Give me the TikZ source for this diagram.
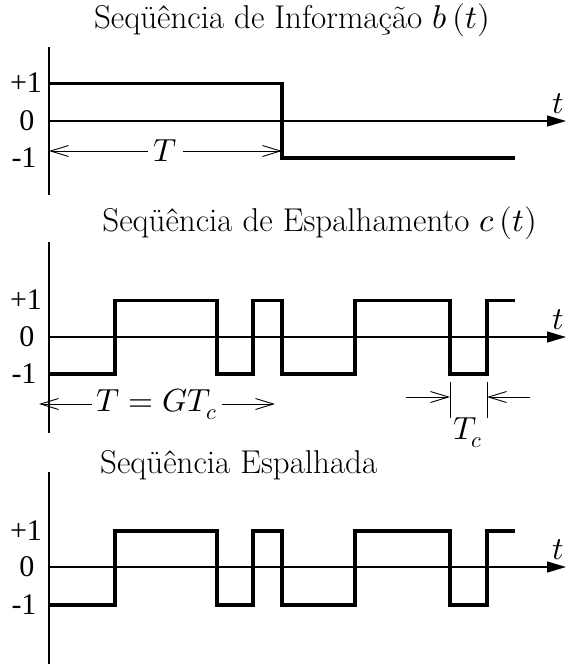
\documentclass[tikz,border=0pt]{standalone}
\usepackage{fontspec}
\usepackage{unicode-math}
\newfontfamily\timesfont{Liberation Serif}
\usetikzlibrary{arrows.meta}

\begin{document}
\begin{tikzpicture}[x=1pt,y=-1pt,
  axis/.style={line width=1.2pt},
  taxis/.style={axis,-{Triangle[length=19pt,width=11pt]}},
  signal/.style={line width=3.2pt,line join=miter},
  barb/.style={line width=0.9pt},
  dim/.style={barb,{Straight Barb[length=18pt,width=11pt]}-{Straight Barb[length=18pt,width=11pt]}},
  halfdim/.style={barb,-{Straight Barb[length=18pt,width=11pt]}},
  title/.style={font=\fontsize{33}{37}\selectfont,inner sep=0pt},
  level/.style={font=\timesfont\fontsize{30}{34}\selectfont,inner sep=0pt},
  tlabel/.style={font=\fontsize{32}{36}\selectfont,inner sep=0pt}]
\path[use as bounding box] (0,0) rectangle (566,664);
% information sequence b(t)
\node[title,anchor=base] (tinfo) at (292,28) {Seqüência de Informação $b\,(t)$};
\draw[axis] (49,47) -- (49,195);
\draw[taxis] (49,121) -- (566,121);
\node[tlabel] (ta) at (558,104) {$t$};
\node[level] (pa) at (26,83) {+1};
\node[level] (za) at (27,121) {0};
\node[level] (ma) at (24,158) {-1};
\draw[signal] (49,83.5) -- (282,83.5) -- (282,158) -- (515,158);
\coordinate (Ta0) at (49,151);
\coordinate (Ta1) at (282,151);
\draw[dim] (Ta0) -- node[tlabel,fill=white,inner xsep=6pt] (lT) {$T$} (Ta1);
% spreading sequence c(t)
\node[title,anchor=base] (tspread) at (320,231) {Seqüência de Espalhamento $c\,(t)$};
\draw[axis] (49,242) -- (49,433);
\draw[taxis] (49,337) -- (566,337);
\node[tlabel] (tb) at (558,320) {$t$};
\node[level] (pb) at (26,300) {+1};
\node[level] (zb) at (27,337) {0};
\node[level] (mb) at (24,374) {-1};
\draw[signal] (49,374) -- (115,374) -- (115,300.5) -- (217,300.5) -- (217,374) -- (253,374)
  -- (253,300.5) -- (282,300.5) -- (282,374) -- (355,374) -- (355,300.5) -- (450,300.5)
  -- (450,374) -- (487,374) -- (487,300.5) -- (515,300.5);
\coordinate (Tb0) at (39,404);
\coordinate (Tb1) at (275,404);
\draw[dim] (Tb0) -- node[tlabel,fill=white,inner xsep=5pt] (lG) {$T = GT_c$} (Tb1);
\coordinate (c0) at (450,382);
\coordinate (c1) at (487,382);
\draw[barb] (c0) -- ++(0,36);
\draw[barb] (c1) -- ++(0,36);
\coordinate (ca) at (406,397);
\coordinate (cb) at (530,397);
\draw[halfdim] (ca) -- (ca -| c0);
\draw[halfdim] (cb) -- (cb -| c1);
\node[tlabel] (lTc) at (468,433) {$T_c$};
% spread sequence
\node[title,anchor=base west] (tout) at (100,473) {Seqüência Espalhada};
\draw[axis] (49,472) -- (49,664);
\draw[taxis] (49,567) -- (566,567);
\node[tlabel] (tc) at (558,550) {$t$};
\node[level] (pc) at (26,531) {+1};
\node[level] (zc) at (27,567) {0};
\node[level] (mc) at (24,605) {-1};
\draw[signal] (49,605) -- (115,605) -- (115,531) -- (217,531) -- (217,605) -- (253,605)
  -- (253,531) -- (282,531) -- (282,605) -- (355,605) -- (355,531) -- (450,531)
  -- (450,605) -- (487,605) -- (487,531) -- (515,531);
\end{tikzpicture}
\end{document}
